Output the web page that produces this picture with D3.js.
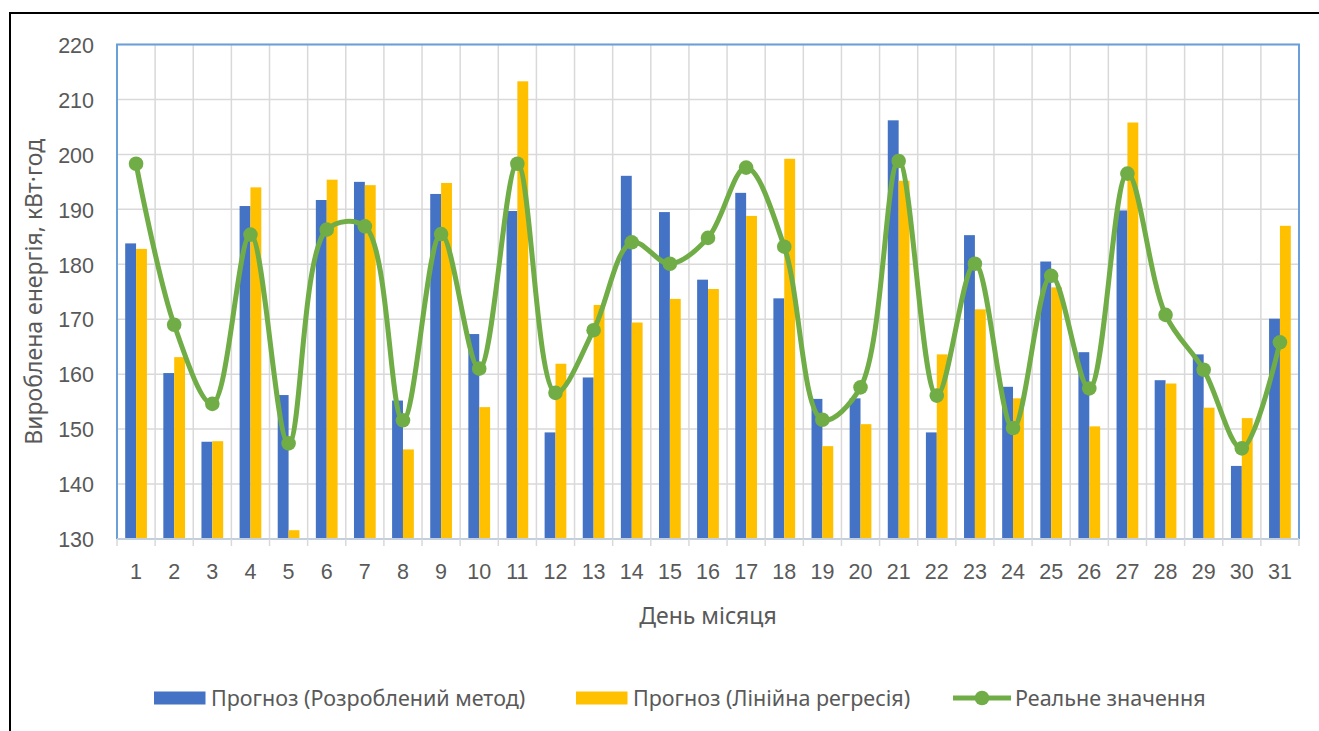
<!DOCTYPE html>
<html>
<head>
<meta charset="utf-8">
<script src="https://cdn.jsdelivr.net/npm/d3@7"></script>
<style>
  html, body { margin: 0; padding: 0; background: #fff; }
  svg { display: block; font-family: "Noto Sans", "Open Sans", sans-serif; }
</style>
</head>
<body>
<svg id="chart" width="1319" height="731"></svg>
<script>
const days = d3.range(1, 32).map(String);
const forecastMethod = [183.8,160.2,147.7,190.6,156.2,191.7,195.0,155.2,192.8,167.3,189.7,149.4,159.4,196.1,189.5,177.2,193.0,173.8,155.5,155.6,206.2,149.4,185.3,157.7,180.5,164.0,189.8,158.9,163.6,143.3,170.1];
const forecastRegression = [182.8,163.1,147.8,194.0,131.6,195.4,194.4,146.3,194.8,154.0,213.3,161.9,172.6,169.4,173.7,175.5,188.8,199.2,146.9,150.9,195.2,163.6,171.8,155.6,175.8,150.5,205.8,158.3,153.9,152.0,187.0];
const actual = [198.3,169.0,154.6,185.4,147.4,186.3,186.9,151.6,185.5,161.0,198.3,156.6,168.0,184.0,180.1,184.8,197.6,183.2,151.7,157.6,198.8,156.1,180.1,150.2,177.9,157.4,196.5,170.8,160.8,146.5,165.8];
const yTicks = [130,140,150,160,170,180,190,200,210,220];
const seriesNames = ["Прогноз (Розроблений метод)", "Прогноз (Лінійна регресія)", "Реальне значення"];
const yTitle = "Вироблена енергія, кВт·год";
const xTitle = "День місяця";

const colors = { blue: "#4472C4", yellow: "#FFC000", green: "#70AD47" };
const svg = d3.select("#chart");
const W = 1319, H = 731;
const plot = { left: 117, right: 1299, top: 44.5, bottom: 539 };
const tickFont = "21.5px", titleFont = "23px", legendFont = "21.5px";

// outer frame
svg.append("rect").attr("x", 10).attr("y", 13).attr("width", W).attr("height", H)
  .attr("fill", "none").attr("stroke", "#000").attr("stroke-width", 2);

const x = d3.scaleBand().domain(days).range([plot.left, plot.right]).padding(0);
const y = d3.scaleLinear().domain([130, 220]).range([plot.bottom, plot.top]);
const groupW = x.bandwidth() * 0.57;
const xs = d3.scaleBand().domain(["m", "r"]).range([0, groupW]).padding(0);

// horizontal gridlines
svg.append("g").selectAll("line").data(yTicks.slice(1)).join("line")
  .attr("x1", plot.left).attr("x2", plot.right)
  .attr("y1", d => y(d)).attr("y2", d => y(d))
  .attr("stroke", "#D9D9D9").attr("stroke-width", 1.5);

// vertical gridlines at category boundaries
svg.append("g").selectAll("line").data(days.slice(1)).join("line")
  .attr("x1", d => x(d)).attr("x2", d => x(d))
  .attr("y1", plot.top).attr("y2", plot.bottom)
  .attr("stroke", "#D9D9D9").attr("stroke-width", 1.5);

// bars
const bars = svg.append("g");
bars.selectAll("rect.m").data(days).join("rect").attr("class", "m")
  .attr("x", (d) => x(d) + (x.bandwidth() - groupW) / 2 + xs("m"))
  .attr("width", xs.bandwidth())
  .attr("y", (d, i) => y(forecastMethod[i]))
  .attr("height", (d, i) => y(130) - y(forecastMethod[i]))
  .attr("fill", colors.blue);
bars.selectAll("rect.r").data(days).join("rect").attr("class", "r")
  .attr("x", (d) => x(d) + (x.bandwidth() - groupW) / 2 + xs("r"))
  .attr("width", xs.bandwidth())
  .attr("y", (d, i) => y(forecastRegression[i]))
  .attr("height", (d, i) => y(130) - y(forecastRegression[i]))
  .attr("fill", colors.yellow);

// plot area border (blue) left/top/right
svg.append("path")
  .attr("d", `M${plot.left},${plot.bottom} V${plot.top} H${plot.right} V${plot.bottom}`)
  .attr("fill", "none").attr("stroke", "#6A9FD8").attr("stroke-width", 2);

// x axis
const xAxis = d3.axisBottom(x).tickSize(0).tickPadding(0);
const gx = svg.append("g").attr("transform", `translate(0,${plot.bottom})`).call(xAxis);
gx.select(".domain").remove();
gx.selectAll(".tick text").attr("y", 39.5).attr("dy", null)
  .attr("fill", "#595959").style("font-size", tickFont);
svg.append("line").attr("x1", plot.left).attr("x2", plot.right)
  .attr("y1", plot.bottom).attr("y2", plot.bottom)
  .attr("stroke", "#C3CFDD").attr("stroke-width", 2);
svg.append("g").selectAll("line").data(days.concat(["end"])).join("line")
  .attr("x1", (d) => d === "end" ? plot.right : x(d))
  .attr("x2", (d) => d === "end" ? plot.right : x(d))
  .attr("y1", plot.bottom).attr("y2", plot.bottom + 7)
  .attr("stroke", "#D9D9D9").attr("stroke-width", 1.5);

// y axis
const yAxis = d3.axisLeft(y).tickValues(yTicks).tickSize(0).tickPadding(0);
const gy = svg.append("g").attr("transform", `translate(${94},0)`).call(yAxis);
gy.select(".domain").remove();
gy.selectAll(".tick text").attr("x", 0).attr("dy", "0.36em")
  .attr("fill", "#595959").style("font-size", tickFont);

// smooth line
const line = d3.line()
  .x((d, i) => x(days[i]) + x.bandwidth() / 2)
  .y(d => y(d))
  .curve(d3.curveCatmullRom.alpha(0.5));
svg.append("path").datum(actual).attr("d", line)
  .attr("fill", "none").attr("stroke", colors.green).attr("stroke-width", 5)
  .attr("stroke-linejoin", "round");
svg.append("g").selectAll("circle").data(actual).join("circle")
  .attr("cx", (d, i) => x(days[i]) + x.bandwidth() / 2)
  .attr("cy", d => y(d)).attr("r", 7.3).attr("fill", colors.green);

// axis titles
svg.append("text").attr("x", (plot.left + plot.right) / 2).attr("y", 624)
  .attr("text-anchor", "middle").attr("fill", "#595959").style("font-size", titleFont)
  .text(xTitle);
svg.append("text")
  .attr("transform", `translate(42,${(plot.top + plot.bottom) / 2}) rotate(-90)`)
  .attr("text-anchor", "middle").attr("fill", "#595959").style("font-size", titleFont)
  .text(yTitle);

// legend
const lg = svg.append("g");
const legendY = 698;
lg.append("rect").attr("x", 154).attr("y", legendY - 6.5).attr("width", 51.5).attr("height", 13).attr("fill", colors.blue);
lg.append("text").attr("x", 211).attr("y", legendY).attr("dy", "0.36em").attr("fill", "#595959").style("font-size", legendFont).text(seriesNames[0]);
lg.append("rect").attr("x", 576).attr("y", legendY - 6.5).attr("width", 51.5).attr("height", 13).attr("fill", colors.yellow);
lg.append("text").attr("x", 633).attr("y", legendY).attr("dy", "0.36em").attr("fill", "#595959").style("font-size", legendFont).text(seriesNames[1]);
lg.append("line").attr("x1", 953).attr("x2", 1011).attr("y1", legendY).attr("y2", legendY)
  .attr("stroke", colors.green).attr("stroke-width", 5);
lg.append("circle").attr("cx", 982).attr("cy", legendY).attr("r", 7.3).attr("fill", colors.green);
lg.append("text").attr("x", 1015).attr("y", legendY).attr("dy", "0.36em").attr("fill", "#595959").style("font-size", legendFont).text(seriesNames[2]);
</script>
</body>
</html>
